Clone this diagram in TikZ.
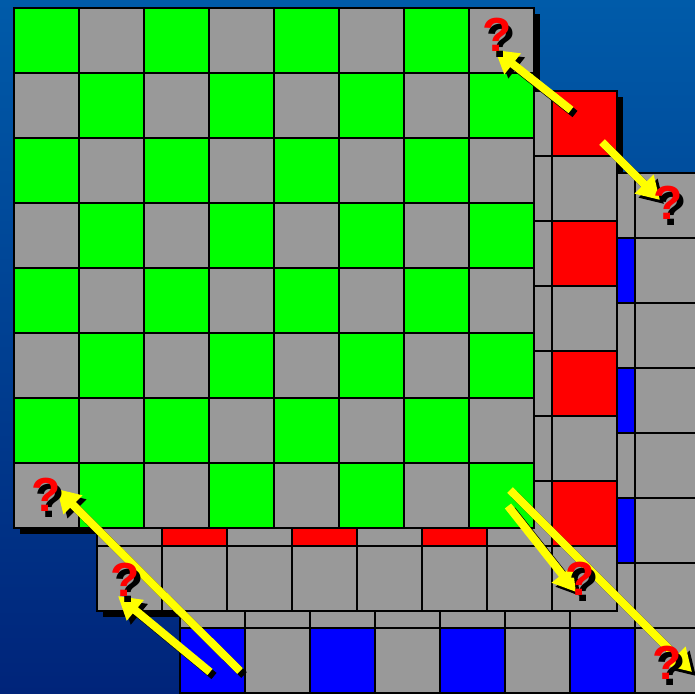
\documentclass[tikz,border=0pt]{standalone}
\usepackage{fontspec}
\newfontfamily\qfont{Liberation Sans}
\usetikzlibrary{arrows.meta}

\definecolor{bgtop}{HTML}{005BA9}
\definecolor{bgbottom}{HTML}{00247A}
\definecolor{cellgray}{HTML}{999999}
\definecolor{bayergreen}{HTML}{00FF00}
\definecolor{bayerred}{HTML}{FF0000}
\definecolor{bayerblue}{HTML}{0000FF}
\definecolor{arrowyellow}{HTML}{FFFF00}

\tikzset{
    cell/.style={draw=black, line width=1.3pt},
    yarrow/.style={draw=arrowyellow, line width=5.7pt, -{Triangle[length=16pt, width=18pt]}},
    ashadow/.style={yarrow, draw=black, transform canvas={shift={(4,4)}}},
    qnode/.style={inner sep=0pt, font=\qfont\bfseries\fontsize{34}{34}\selectfont}
}

\newcommand\qmark{\rlap{\kern3pt\raisebox{-4pt}{?}}\textcolor{bayerred}{?}}

\begin{document}
\begin{tikzpicture}[x=0.025cm, y=-0.025cm]
    % Background
    \useasboundingbox (0,0) rectangle (695,694);
    \shade[top color=bgtop, bottom color=bgbottom] (0,0) rectangle (695,694);

    % Board shadows
    \fill[black] (186,179) rectangle ++(520,520);
    \fill[black] (103,97) rectangle ++(520,520);
    \fill[black] (20,14) rectangle ++(520,520);

    % Blue board
    \foreach \r in {0,...,7}
        \foreach \c in {0,...,7} {
            \pgfmathtruncatemacro\k{mod(\r,2)*mod(\c+1,2)}
            \ifnum\k=1 \def\cc{bayerblue}\else\def\cc{cellgray}\fi
            \draw[cell, fill=\cc] (180+65*\c,173+65*\r) rectangle ++(65,65);
        }

    % Red board
    \foreach \r in {0,...,7}
        \foreach \c in {0,...,7} {
            \pgfmathtruncatemacro\k{mod(\r+1,2)*mod(\c,2)}
            \ifnum\k=1 \def\cc{bayerred}\else\def\cc{cellgray}\fi
            \draw[cell, fill=\cc] (97+65*\c,91+65*\r) rectangle ++(65,65);
        }

    % Green board
    \foreach \r in {0,...,7}
        \foreach \c in {0,...,7} {
            \pgfmathtruncatemacro\k{mod(\r+\c+1,2)}
            \ifnum\k=1 \def\cc{bayergreen}\else\def\cc{cellgray}\fi
            \draw[cell, fill=\cc] (14+65*\c,8+65*\r) rectangle ++(65,65);
        }

    % Arrow ends
    \coordinate (t1) at (571,110);  \coordinate (h1) at (495,50);
    \coordinate (t2) at (602,142);  \coordinate (h2) at (660,200);
    \coordinate (t3) at (240,671);  \coordinate (h3) at (57,489);
    \coordinate (t4) at (210,672);  \coordinate (h4) at (118,596);
    \coordinate (t5) at (508,506);  \coordinate (h5) at (576,592);
    \coordinate (t6) at (510,490);  \coordinate (h6) at (692,672);

    % Draw arrows
    \foreach \i in {1,...,6} {
        \draw[ashadow] (t\i) -- (h\i);
        \draw[yarrow] (t\i) -- (h\i);
    }

    % Missing values
    \node[qnode] (q1) at (497,38) {\qmark};
    \node[qnode] (q2) at (668,206) {\qmark};
    \node[qnode] (q3) at (46,498) {\qmark};
    \node[qnode] (q4) at (125,583) {\qmark};
    \node[qnode] (q5) at (580,582) {\qmark};
    \node[qnode] (q6) at (667,666) {\qmark};
\end{tikzpicture}
\end{document}
